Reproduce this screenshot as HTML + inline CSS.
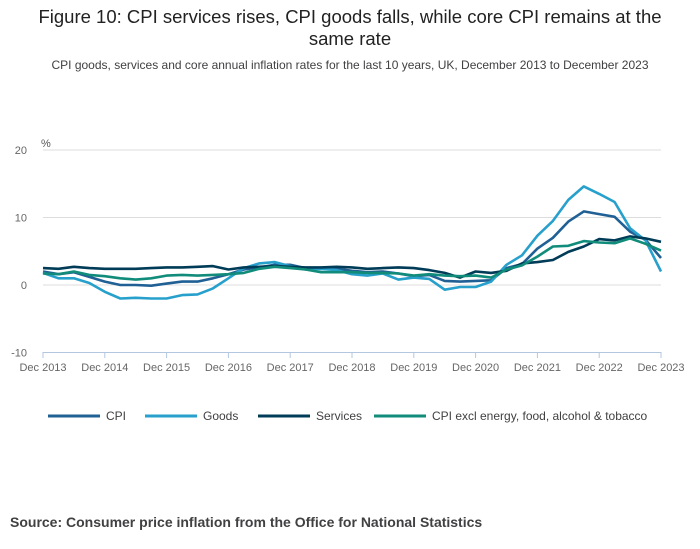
<!DOCTYPE html>
<html><head><meta charset="utf-8"><style>
body{margin:0;width:700px;height:549px;background:#fff;font-family:"Liberation Sans",sans-serif;overflow:hidden}
</style></head><body>
<svg width="700" height="549" style="position:absolute;left:0;top:0">
<text x="350" y="23" text-anchor="middle" font-size="18.5" fill="#222">Figure 10: CPI services rises, CPI goods falls, while core CPI remains at the</text>
<text x="350" y="45" text-anchor="middle" font-size="18.5" fill="#222">same rate</text>
<text x="350" y="69" text-anchor="middle" font-size="12" fill="#414042">CPI goods, services and core annual inflation rates for the last 10 years, UK, December 2013 to December 2023</text>
<text x="41" y="147" font-size="11" fill="#555">%</text>
<g id="grid"></g><g id="series"></g><g id="xaxis"></g>
<g id="legend"></g>
<text x="10" y="527" font-size="14" font-weight="bold" fill="#414042">Source: Consumer price inflation from the Office for National Statistics</text>
</svg>
<script>
const yTicks=[20,10,0,-10];
const xLabels=["Dec 2013","Dec 2014","Dec 2015","Dec 2016","Dec 2017","Dec 2018","Dec 2019","Dec 2020","Dec 2021","Dec 2022","Dec 2023"];
const cpi=[2.0,1.6,1.9,1.2,0.5,0.0,0.0,-0.1,0.2,0.5,0.5,1.0,1.6,2.3,2.6,3.0,3.0,2.5,2.4,2.4,2.1,1.9,2.0,1.7,1.3,1.5,0.6,0.5,0.6,0.7,2.5,3.1,5.4,7.0,9.4,10.9,10.5,10.1,7.9,6.7,4.0];
const goods=[1.8,1.0,1.0,0.3,-1.0,-2.0,-1.9,-2.0,-2.0,-1.5,-1.4,-0.5,1.0,2.5,3.2,3.4,2.8,2.3,2.4,2.2,1.6,1.4,1.7,0.8,1.1,0.9,-0.7,-0.3,-0.3,0.5,3.0,4.4,7.3,9.5,12.6,14.6,13.5,12.3,8.4,6.6,2.0];
const services=[2.5,2.4,2.7,2.5,2.4,2.4,2.4,2.5,2.6,2.6,2.7,2.8,2.3,2.6,2.7,2.8,2.7,2.6,2.6,2.7,2.6,2.4,2.5,2.6,2.5,2.2,1.8,1.1,2.0,1.8,2.1,3.2,3.4,3.7,4.9,5.7,6.8,6.6,7.2,6.9,6.4];
const core=[1.7,1.6,2.0,1.5,1.3,1.0,0.8,1.0,1.4,1.5,1.4,1.5,1.6,1.8,2.4,2.7,2.5,2.3,1.9,1.9,1.9,1.8,1.8,1.7,1.4,1.6,1.4,1.3,1.4,1.1,2.3,2.9,4.2,5.7,5.8,6.5,6.3,6.2,6.9,6.1,5.1];
const seriesNames=["CPI","Goods","Services","CPI excl energy, food, alcohol & tobacco"];
const colors=["#206095","#27a0cc","#003c57","#118c7b"];
const NS="http://www.w3.org/2000/svg";
const x0=43,x1=661;
function X(i){return x0+(x1-x0)*i/40;}
function Y(v){return 285-v*6.75;}
function mk(t,a,p){const e=document.createElementNS(NS,t);for(const k in a)e.setAttribute(k,a[k]);p.appendChild(e);return e;}
const grid=document.getElementById('grid');
yTicks.forEach(v=>{
 const l=mk('line',{x1:x0,x2:x1,y1:Y(v),y2:Y(v),stroke:'#ddd','stroke-width':1},grid);
 
 
 const t=mk('text',{x:27,y:Y(v)+4,'text-anchor':'end','font-size':11,fill:'#666'},grid);t.textContent=v;
 
 
});
const xa=document.getElementById('xaxis');
const ax=mk('line',{x1:x0,x2:x1,y1:352.5,y2:352.5,stroke:'#b3c7e0','stroke-width':1},xa);


xLabels.forEach((s,i)=>{
 const x=x0+(x1-x0)*i/10;
 mk('line',{x1:x,x2:x,y1:352,y2:358,stroke:'#b3c7e0'},xa);
 const t=mk('text',{x:x,y:371,'text-anchor':'middle','font-size':11,fill:'#666'},xa);t.textContent=s;
 
 
});
const sg=document.getElementById('series');
[cpi,goods,services,core].forEach((arr,k)=>{
 const d=arr.map((v,i)=>(i?'L':'M')+X(i).toFixed(1)+','+Y(v).toFixed(1)).join('');
 const p=mk('path',{d:d,fill:'none',stroke:colors[k],'stroke-width':2.6,'stroke-linejoin':'round'},sg);
 
 
});
const lg=document.getElementById('legend');
const lx=[48,145,258,374];
seriesNames.forEach((n,k)=>{
 const g=mk('g',{},lg);
 
 
 mk('line',{x1:lx[k],x2:lx[k]+52,y1:416,y2:416,stroke:colors[k],'stroke-width':3},g);
 const t=mk('text',{x:lx[k]+58,y:420,'font-size':12,fill:'#414042'},g);t.textContent=n;
});
</script>
</body></html>
